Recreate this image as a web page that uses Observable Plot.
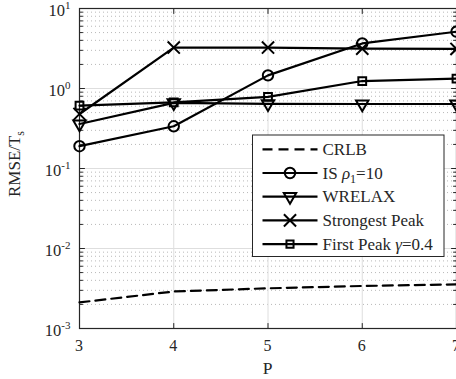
<!DOCTYPE html>
<html><head><meta charset="utf-8">
<script src="https://cdn.jsdelivr.net/npm/d3@7"></script>
<script src="https://cdn.jsdelivr.net/npm/@observablehq/plot@0.6"></script>
<style>
body{margin:0;background:#fff;}
#chart{position:relative;width:456px;height:379px;overflow:hidden;}
</style></head><body><div id="chart"></div>
<script>
// ---- data ----
const P = [3, 4, 5, 6, 7];
const crlb = [0.00212, 0.0029, 0.00318, 0.0034, 0.00356];
const isRho = [0.19, 0.337, 1.46, 3.66, 5.13];
const wrelax = [0.36, 0.66, 0.643, 0.64, 0.64];
const strongest = [0.48, 3.25, 3.25, 3.15, 3.12];
const firstPeak = [0.61, 0.67, 0.787, 1.24, 1.33];
const xTicks = [3, 4, 5, 6, 7];
const xTickLabels = ["3", "4", "5", "6", "7"];
const yMajor = [1e-3, 1e-2, 1e-1, 1, 10];
const yExponents = ["-3", "-2", "-1", "0", "1"];
const minorMult = [2, 3, 4, 5, 6, 7, 8, 9];
const yMinor = yMajor.slice(0, -1).flatMap(d => minorMult.map(m => d * m));

const FONT = "'Liberation Serif','Times New Roman',serif";
const toRows = vals => P.map((p, i) => ({p, v: vals[i]}));
const tickShape = {draw(ctx, l) { ctx.moveTo(0, 0); ctx.lineTo(0, -l); }};
const vec = (data, o) => Plot.vector(data, {length: 5, anchor: "start", shape: tickShape, stroke: "#262626", strokeWidth: 1, ...o});

const plot = Plot.plot({
  width: 456, height: 379,
  marginLeft: 79, marginRight: 0, marginTop: 8, marginBottom: 51,
  style: {fontFamily: FONT, fontSize: "16px", background: "white"},
  x: {domain: [3, 7], axis: null},
  y: {type: "log", domain: [1e-3, 10], axis: null},
  marks: [
    Plot.ruleY(yMinor, {stroke: "#b8b8b8", strokeDasharray: "1,3"}),
    Plot.ruleY(yMajor, {stroke: "#dedede"}),
    Plot.ruleX(xTicks, {stroke: "#dedede"}),
    // ticks (inward)
    vec(yMajor, {x: 3, y: d => d, rotate: 90}),
    vec(yMinor, {x: 3, y: d => d, rotate: 90, length: 3}),
    vec(yMajor, {x: 7, y: d => d, rotate: -90}),
    vec(yMinor, {x: 7, y: d => d, rotate: -90, length: 3}),
    vec(xTicks, {x: d => d, y: 1e-3, rotate: 0}),
    vec(xTicks, {x: d => d, y: 10, rotate: 180}),
    Plot.frame({stroke: "#262626", strokeWidth: 1.2}),
    // series
    Plot.line(toRows(crlb), {x: "p", y: "v", stroke: "black", strokeWidth: 2.2, strokeDasharray: "10,6"}),
    Plot.line(toRows(isRho), {x: "p", y: "v", stroke: "black", strokeWidth: 2.2}),
    Plot.line(toRows(wrelax), {x: "p", y: "v", stroke: "black", strokeWidth: 2.2}),
    Plot.line(toRows(strongest), {x: "p", y: "v", stroke: "black", strokeWidth: 2.2}),
    Plot.line(toRows(firstPeak), {x: "p", y: "v", stroke: "black", strokeWidth: 2.2}),
    Plot.dot(toRows(isRho), {x: "p", y: "v", r: 5.2, stroke: "black", strokeWidth: 2, fill: "none"}),
    Plot.dot(toRows(wrelax), {x: "p", y: "v", symbol: "triangle", rotate: 180, r: 4.6, stroke: "black", strokeWidth: 2, fill: "none"}),
    Plot.dot(toRows(strongest), {x: "p", y: "v", symbol: "times", r: 5.6, stroke: "black", strokeWidth: 2, fill: "none"}),
    Plot.dot(toRows(firstPeak), {x: "p", y: "v", symbol: "square", r: 4.4, stroke: "black", strokeWidth: 2, fill: "none"})
  ]
});

const xs = plot.scale("x"), ys = plot.scale("y");
const svg = d3.select(plot);
const g = svg.append("g").attr("font-family", FONT).attr("fill", "#262626");

// x tick labels
g.selectAll(".xt").data(xTicks).join("text")
  .attr("x", d => xs.apply(d)).attr("y", ys.apply(1e-3) + 23)
  .attr("text-anchor", "middle").attr("font-size", 16)
  .text((d, i) => xTickLabels[i]);

// y tick labels 10^k
yMajor.forEach((d, i) => {
  const t = g.append("text")
    .attr("x", xs.apply(3) - 8.5).attr("y", ys.apply(d) + 7.5)
    .attr("text-anchor", "end").attr("font-size", 16.5);
  t.append("tspan").text("10");
  t.append("tspan").attr("font-size", 11).attr("dy", -7).text(yExponents[i]);
});

// axis labels
g.append("text").attr("x", xs.apply(5))
  .attr("y", 374).attr("text-anchor", "middle").attr("font-size", 17.5).text("P");
const yl = g.append("text").attr("transform", `translate(19.5,${(ys.apply(1e-3) + ys.apply(10)) / 2 - 4}) rotate(-90)`)
  .attr("text-anchor", "middle").attr("font-size", 17);
yl.append("tspan").text("RMSE/T");
yl.append("tspan").attr("font-size", 12).attr("dy", 4).text("s");

// legend
const lg = svg.append("g").attr("font-family", FONT).attr("text-anchor", "start");
lg.append("rect").attr("x", 252.5).attr("y", 135).attr("width", 191.5).attr("height", 121.5)
  .attr("fill", "white").attr("stroke", "#262626").attr("stroke-width", 1);
const legendItems = [
  {sym: null, dash: "10,6", parts: [["CRLB"]]},
  {sym: d3.symbolCircle, r: 5.2, parts: [["IS "], ["ρ", "italic"], ["1", "sub"], ["=10", "back"]]},
  {sym: d3.symbolTriangle, r: 4.6, rot: 180, parts: [["WRELAX"]]},
  {sym: d3.symbolTimes, r: 5.6, parts: [["Strongest Peak"]]},
  {sym: d3.symbolSquare, r: 4.0, parts: [["First Peak "], ["γ", "italic"], ["=0.4"]]}
];
legendItems.forEach((it, i) => {
  const y = 149.3 + i * 23.7;
  lg.append("line").attr("x1", 262.5).attr("x2", 317.5).attr("y1", y).attr("y2", y)
    .attr("stroke", "black").attr("stroke-width", 2.2).attr("stroke-dasharray", it.dash || null);
  if (it.sym) {
    lg.append("path").attr("d", d3.symbol(it.sym, Math.PI * it.r * it.r)())
      .attr("transform", `translate(290,${y}) rotate(${it.rot || 0})`)
      .attr("fill", "none").attr("stroke", "black").attr("stroke-width", 2);
  }
  const t = lg.append("text").attr("x", 322.5).attr("y", y + 5.5).attr("font-size", 17)
    .attr("fill", "#262626").attr("text-anchor", "start");
  it.parts.forEach(([s, k]) => {
    const sp = t.append("tspan").text(s);
    if (k === "italic") sp.attr("font-style", "italic");
    if (k === "sub") sp.attr("font-size", 12).attr("dy", 4);
    if (k === "back") sp.attr("dy", -4);
  });
});

document.getElementById("chart").append(plot);
</script></body></html>
